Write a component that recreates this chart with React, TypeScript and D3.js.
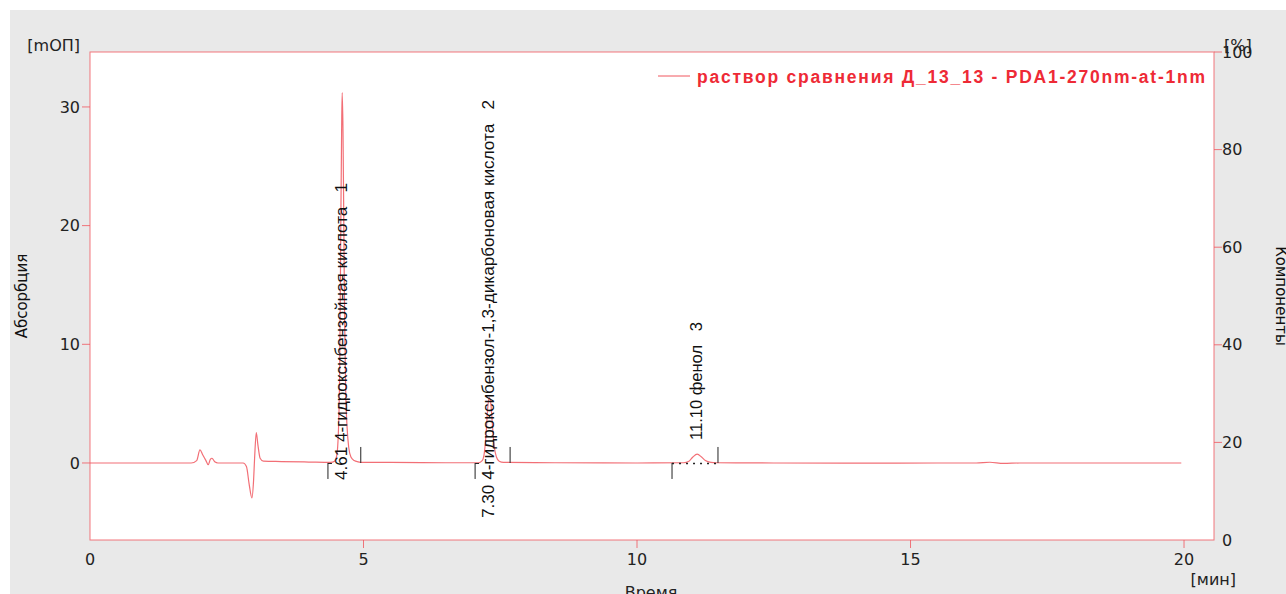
import React from 'react';
import * as d3 from 'd3';

// chromatogram trace (time in min, absorbance in mAU)
const times = [
  0, 1.0, 1.85, 1.95, 2.01, 2.06, 2.12, 2.16, 2.20, 2.23, 2.28, 2.34,
  2.80, 2.86, 2.91, 2.96, 2.99, 3.01, 3.04, 3.07, 3.11, 3.17, 3.5, 4.0,
  4.40, 4.47, 4.51, 4.54, 4.565, 4.585, 4.60, 4.61, 4.625, 4.64, 4.655, 4.675, 4.70, 4.73, 4.77, 4.83, 4.90, 5.0,
  5.5, 6.5, 7.10, 7.17, 7.21, 7.24, 7.27, 7.30, 7.33, 7.36, 7.39, 7.43, 7.48, 7.56,
  8.5, 10.0, 10.85, 10.95, 11.02, 11.10, 11.18, 11.25, 11.35, 11.45,
  12.5, 14.0, 15.5, 16.2, 16.45, 16.7, 17.0, 18.5, 19.95,
];
const absorb = [
  0, 0, 0, 0.2, 1.1, 0.7, 0.2, -0.15, 0.3, 0.4, 0.1, 0,
  0, -0.3, -1.8, -2.95, -1.5, 0.5, 2.55, 1.5, 0.4, 0.15, 0.12, 0.08,
  0.05, 0.15, 0.6, 2.5, 8, 20, 28, 31.2, 28, 20, 12, 6, 3, 1.3, 0.5, 0.2, 0.1, 0.05,
  0.05, 0.02, 0.02, 0.2, 0.9, 2.4, 4.6, 5.5, 4.9, 3.0, 1.4, 0.5, 0.15, 0.05,
  0.02, 0, 0.02, 0.15, 0.5, 0.75, 0.5, 0.2, 0.05, 0.02,
  0, -0.02, 0, 0, 0.06, -0.04, 0, 0, 0,
];

// integrated peaks
const peakTimes = [4.61, 7.30, 11.10];
const peakNames = ['4-гидроксибензойная кислота', '4-гидроксибензол-1,3-дикарбоновая кислота', 'фенол'];
const peakStart = [4.35, 7.04, 10.64];
const peakEnd = [4.95, 7.68, 11.48];

const xTicks = [0, 5, 10, 15, 20];
const yTicks = [0, 10, 20, 30];
const rTicks = [0, 20, 40, 60, 80, 100];

const legendText = 'раствор сравнения Д_13_13 - PDA1-270nm-at-1nm';

// label layout: bottom end of the rotated text (px below baseline) and its drawn length
const labelBottom = [17, 55, -23];
const labelLength = [297, 418, 118];

const W = 1286, H = 594;
const left = 90, right = 1214, top = 52, bottom = 540;
const red = '#f0565e';
const axisFont = 'DejaVu Sans, sans-serif';

export default function App() {
  const x = d3.scaleLinear().domain([0, 20.548]).range([left, right]);
  const y = d3.scaleLinear().domain([-6.49, 34.63]).range([bottom, top]);
  const yr = d3.scaleLinear().domain([0, 100]).range([bottom, top]);

  const pts: [number, number][] = times.map((t, i) => [t, absorb[i]]);
  const line = d3.line<[number, number]>()
    .x(d => x(d[0]))
    .y(d => y(d[1]))
    .curve(d3.curveMonotoneX);

  const y0 = y(0);

  return (
    <div style={{ position: 'absolute', left: 0, top: 0, width: W, height: H, overflow: 'hidden' }}>
      <svg width={W} height={H} style={{ display: 'block' }}>
        <rect x={0} y={0} width={W} height={H} fill='#ffffff' />
        <rect x={10} y={10} width={W - 10} height={H - 10} fill='#e9e9e9' />
        <rect x={left} y={top} width={right - left} height={bottom - top} fill='#ffffff' stroke={red} strokeOpacity={0.8} strokeWidth={1} />

        {/* left axis */}
        {yTicks.map(v => (
          <g key={'yl' + v}>
            <line x1={left - 8} x2={left} y1={y(v)} y2={y(v)} stroke={red} strokeOpacity={0.8} />
            <text x={left - 10} y={y(v)} dy='0.35em' textAnchor='end' fontFamily={axisFont} fontSize={16} fill='#222'>{v}</text>
          </g>
        ))}
        <text x={80} y={51} textAnchor='end' fontFamily={axisFont} fontSize={16} fill='#222'>[mОП]</text>
        <text transform={`translate(27,296) rotate(-90)`} textAnchor='middle' fontFamily={axisFont} fontSize={15} fill='#111'>Абсорбция</text>

        {/* right axis */}
        {rTicks.map(v => (
          <g key={'yr' + v}>
            {v > 0 && <line x1={right} x2={right + 8} y1={yr(v)} y2={yr(v)} stroke={red} strokeOpacity={0.8} />}
            <text x={right + 8} y={yr(v)} dy='0.35em' fontFamily={axisFont} fontSize={16} fill='#222'>{v}</text>
          </g>
        ))}
        <text x={1224} y={51} fontFamily={axisFont} fontSize={16} fill='#222'>[%]</text>
        <text transform={`translate(1276,296) rotate(90)`} textAnchor='middle' fontFamily={axisFont} fontSize={15} fill='#111'>Компоненты</text>

        {/* bottom axis */}
        {xTicks.map(v => (
          <g key={'x' + v}>
            {v > 0 && <line x1={x(v)} x2={x(v)} y1={bottom} y2={bottom + 8} stroke={red} strokeOpacity={0.8} />}
            <text x={x(v)} y={565} textAnchor='middle' fontFamily={axisFont} fontSize={16} fill='#222'>{v}</text>
          </g>
        ))}
        <text x={1236} y={585} textAnchor='end' fontFamily={axisFont} fontSize={16} fill='#222'>[мин]</text>
        <text x={651} y={598} textAnchor='middle' fontFamily={axisFont} fontSize={16} fill='#222'>Время</text>

        {/* trace */}
        <path d={line(pts) || ''} fill='none' stroke={red} strokeWidth={1.2} strokeOpacity={0.85} />

        {/* integration marks */}
        {peakTimes.map((t, i) => {
          const xs = x(peakStart[i]);
          const xe = x(peakEnd[i]);
          return (
            <g key={'pk' + i} stroke='#222' strokeWidth={1}>
              <line x1={xs} x2={xs} y1={y0} y2={y0 + 16} />
              <line x1={xe} x2={xe} y1={y0 - 16} y2={y0} />
              <line x1={xs} x2={xe} y1={y0 + 0.5} y2={y0 + 0.5}
                strokeDasharray={i === 2 ? '2,5' : '4,200'} strokeWidth={i === 2 ? 1.5 : 1} />
            </g>
          );
        })}

        {/* peak labels */}
        {peakTimes.map((t, i) => (
          <text key={'lb' + i}
            transform={`translate(${x(t) + 5},${y0 + labelBottom[i]}) rotate(-90)`}
            fontFamily='Liberation Sans, Arial, sans-serif' fontSize={16} fill='#111'
            textLength={labelLength[i]} lengthAdjust='spacingAndGlyphs'
            style={{ whiteSpace: 'pre' }}>
            {`${t.toFixed(2)} ${peakNames[i]}   ${i + 1}`}
          </text>
        ))}

        {/* legend */}
        <line x1={658} x2={690} y1={76} y2={76} stroke={red} strokeWidth={1} />
        <text x={697} y={83} fontFamily='Liberation Sans, Arial, sans-serif' fontWeight='bold' fontSize={17.5}
          fill='#ee2a36' textLength={508} lengthAdjust='spacing'>{legendText}</text>
      </svg>
    </div>
  );
}
